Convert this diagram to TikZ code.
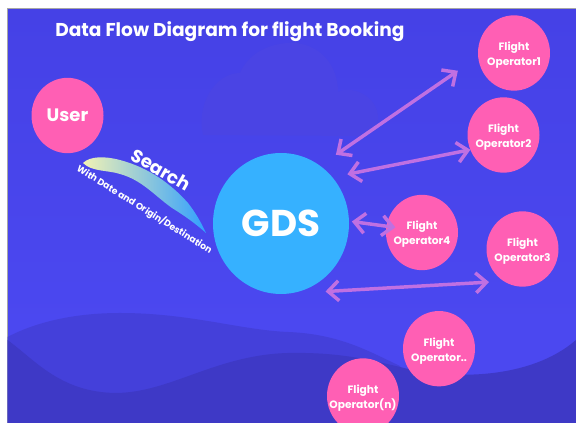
\documentclass[tikz,border=0pt]{standalone}
\usepackage{fontspec}
\setmainfont{Poppins}
\usetikzlibrary{shapes.geometric,arrows.meta}
\definecolor{bgtop}{HTML}{4541E6}
\definecolor{bgbot}{HTML}{4B48F0}
\definecolor{wavemid}{HTML}{4440DA}
\definecolor{wavedark}{HTML}{3E39C6}
\definecolor{cloudc}{HTML}{4A44E4}
\definecolor{pinkc}{HTML}{FF5FB4}
\definecolor{bluec}{HTML}{36B1FF}
\definecolor{arrowc}{HTML}{C070E2}
\definecolor{brushl}{HTML}{F2F2B4}
\definecolor{brushm}{HTML}{7FD8C8}
\newcommand{\optxt}[1]{\raisebox{-3.5pt}[0pt][0pt]{\makebox[24pt][c]{\begin{tabular}{@{}c@{}}Flight\\#1\end{tabular}}}}
\tikzset{
  bubble/.style={ellipse,fill=pinkc,text=white,font=\bfseries\fontsize{8}{11.25}\selectfont,align=center,inner sep=0pt,outer sep=0pt,minimum width=54pt,minimum height=56.5pt},
  flow/.style={draw=arrowc,line width=2.6pt,line cap=round,{Straight Barb[length=8pt,width=15pt,line width=2.6pt]}-{Straight Barb[length=8pt,width=15pt,line width=2.6pt]}},
  lbl/.style={text=white,inner sep=0pt,font=\bfseries}
}
\begin{document}
\begin{tikzpicture}[x=0.75pt,y=-0.75pt]
\useasboundingbox (0,0) rectangle (576,423);
\fill[white] (0,0) rectangle (576,423);
\shade[top color=bgtop,bottom color=bgbot] (7.5,8.5) rectangle (576,330);
\fill[bgbot] (7.5,329) rectangle (576,423);
\draw[color=black!35,line width=0.4pt] (7.5,423) -- (7.5,8.5) -- (576,8.5);
% cloud
\fill[cloudc] (203,135) .. controls (196,105) and (215,73) .. (240,73)
  .. controls (250,50) and (275,42) .. (295,43)
  .. controls (320,45) and (338,65) .. (338,92)
  .. controls (350,85) and (378,95) .. (378,118)
  .. controls (378,128) and (370,135) .. (360,136) -- cycle;
% waves
\fill[wavemid] (7.5,337) .. controls (40,320) and (80,313) .. (120,313)
  .. controls (190,313) and (240,330) .. (288,332)
  .. controls (340,334) and (370,352) .. (400,366) -- (400,423) -- (7.5,423) -- cycle;
\fill[wavedark] (7.5,340) .. controls (35,360) and (60,392) .. (115,393)
  .. controls (170,393) and (215,355) .. (288,353)
  .. controls (340,352) and (370,360) .. (400,367)
  .. controls (450,380) and (530,380) .. (576,340)
  -- (576,423) -- (7.5,423) -- cycle;
% brush
\shade[left color=brushl,middle color=brushm,right color=bluec!90!blue]
  (83,163) .. controls (90,156) and (105,156) .. (120,160)
  .. controls (150,168) and (172,185) .. (188,203)
  .. controls (195,212) and (201,222) .. (206,233)
  .. controls (196,224) and (185,216) .. (172,208)
  .. controls (155,196) and (142,180) .. (120,174)
  .. controls (108,170) and (92,172) .. (83,163) -- cycle;
% nodes
\node[lbl,anchor=west,font=\bfseries\fontsize{13.95}{16}\selectfont] (title) at (55,32) {Data Flow Diagram for flight Booking};
\node[bubble,font=\bfseries\fontsize{13.5}{15}\selectfont] (user) at (67.5,115.5) {User};
\node[ellipse,fill=bluec,text=white,inner sep=0pt,outer sep=0pt,minimum width=102pt,minimum height=105.75pt,font=\bfseries\fontsize{28}{30}\selectfont] (gds) at (281,223.5) {GDS};
\node[bubble] (op1) at (514,53) {\optxt{Operator1}};
\node[bubble] (op2) at (503.5,135) {\optxt{Operator2}};
\node[bubble] (op4) at (422,232.5) {\optxt{Operator4}};
\node[bubble] (op3) at (522.5,249) {\optxt{Operator3}};
\node[bubble] (opd) at (439,348.7) {\optxt{Operator..}};
\node[bubble] (opn) at (363,396) {\optxt{Operator(n)}};
\node[lbl,rotate=-30,font=\bfseries\fontsize{13.5}{15}\selectfont] (search) at (161,170) {Search};
\node[lbl,rotate=-32,font=\bfseries\fontsize{6.9}{8}\selectfont] (detail) at (144.5,209.5) {With Date and Origin/Destination};
% connectors
\draw[flow,shorten <=14.5pt,shorten >=18.5pt] (gds.56.8) -- (op1.186);
\draw[flow,shorten <=11.5pt] (gds.42.4) -- (op2.204);
\draw[flow,shorten <=2.2pt,shorten >=-6.7pt] (gds.2.2) -- (op4.170);
\draw[flow,shorten <=30.7pt,shorten >=11.2pt] (gds.273.2) -- (op3.240);
\end{tikzpicture}
\end{document}
